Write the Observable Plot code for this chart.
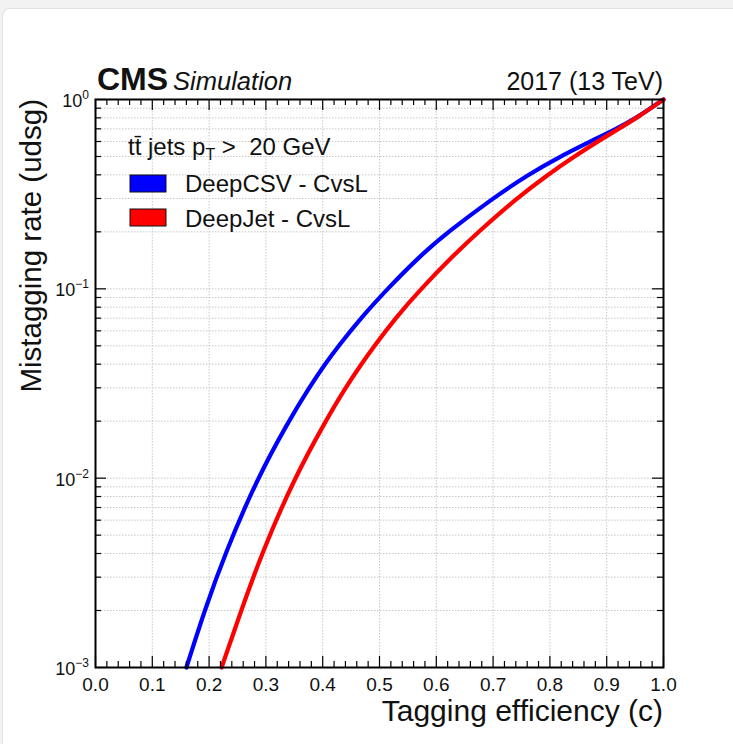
<!DOCTYPE html>
<html>
<head>
<meta charset="utf-8">
<script src="https://cdn.jsdelivr.net/npm/d3@7"></script>
<script src="https://cdn.jsdelivr.net/npm/@observablehq/plot@0.6"></script>
<style>
  html, body { margin: 0; padding: 0; background: #f2f2f2; width: 733px; height: 744px; overflow: hidden; }
  #panel { position: absolute; left: 2px; top: 8px; width: 740px; height: 750px; background: #fff;
           border-top: 1px solid #e2e2e2; border-left: 1px solid #e2e2e2; border-top-left-radius: 8px; }
  #chart { position: absolute; left: 0; top: 0; }
</style>
</head>
<body>
<div id="panel"></div>
<div id="chart"></div>
<script>
// ---- data ----
const blueX = [0.160, 0.192, 0.228, 0.285, 0.340, 0.376, 0.404, 0.428, 0.467, 0.514, 0.572, 0.621, 0.699, 0.761, 0.818, 0.871, 0.917, 0.953, 1.000];
const blueY = [0.001, 0.002, 0.004, 0.010, 0.020, 0.030, 0.040, 0.050, 0.070, 0.100, 0.150, 0.200, 0.300, 0.400, 0.500, 0.600, 0.700, 0.800, 1.000];
const redX  = [0.222, 0.2565, 0.2925, 0.350, 0.405, 0.440, 0.468, 0.491, 0.528, 0.573, 0.630, 0.674, 0.741, 0.796, 0.843, 0.884, 0.921, 0.953, 1.000];
const redY  = [0.001, 0.002, 0.004, 0.010, 0.020, 0.030, 0.040, 0.050, 0.070, 0.100, 0.150, 0.200, 0.300, 0.400, 0.500, 0.600, 0.700, 0.800, 1.000];
const seriesNames = ["DeepCSV - CvsL", "DeepJet - CvsL"];
const seriesColors = ["#0000ff", "#ff0000"];
const xTickLabels = ["0.0","0.1","0.2","0.3","0.4","0.5","0.6","0.7","0.8","0.9","1.0"];
const yExponents = [-3, -2, -1, 0];
const titleX = "Tagging efficiency (c)";
const titleY = "Mistagging rate (udsg)";
const headerLeftBold = "CMS";
const headerLeftItalic = "Simulation";
const headerRight = "2017 (13 TeV)";

// ---- derived tables ----
const blue = blueX.map((x, i) => ({x, y: blueY[i]}));
const red = redX.map((x, i) => ({x, y: redY[i]}));
const xMajor = xTickLabels.map(Number);
const xMinor = d3.range(0, 50).map(i => i / 50).filter(v => Math.round(v * 50) % 5 !== 0);
const yMajor = yExponents.map(e => Math.pow(10, e));
const yMinor = [];
for (const e of yExponents.slice(0, -1)) for (let m = 2; m <= 9; m++) yMinor.push(m * Math.pow(10, e));
const yGrid = yMajor.concat(yMinor);

const W = 733, H = 744;
const mL = 95, mR = 70, mT = 99, mB = 77;
const pw = W - mL - mR, ph = H - mT - mB;
const FONT = "'Liberation Sans', Arial, Helvetica, sans-serif";
const majLen = 11, minLen = 6;

const chart = Plot.plot({
  width: W, height: H,
  marginLeft: mL, marginRight: mR, marginTop: mT, marginBottom: mB,
  style: {background: "transparent", fontFamily: FONT, overflow: "visible"},
  x: {domain: [0, 1], axis: null},
  y: {type: "log", domain: [1e-3, 1], axis: null},
  marks: [
    Plot.gridX(xMajor, {stroke: "#c8c8c8", strokeOpacity: 1, strokeDasharray: "1.5,1.5"}),
    Plot.gridY(yGrid, {stroke: "#c8c8c8", strokeOpacity: 1, strokeDasharray: "1.5,1.5"}),
    Plot.line(blue, {x: "x", y: "y", stroke: seriesColors[0], strokeWidth: 4.2, curve: "basis"}),
    Plot.line(red, {x: "x", y: "y", stroke: seriesColors[1], strokeWidth: 4.2, curve: "basis"}),
    // inward ticks (bottom / top)
    Plot.ruleX(xMajor, {x: d => d, insetTop: ph - majLen, stroke: "black", strokeWidth: 1.2}),
    Plot.ruleX(xMinor, {x: d => d, insetTop: ph - minLen, stroke: "black", strokeWidth: 1.2}),
    Plot.ruleX(xMajor, {x: d => d, insetBottom: ph - majLen, stroke: "black", strokeWidth: 1.2}),
    Plot.ruleX(xMinor, {x: d => d, insetBottom: ph - minLen, stroke: "black", strokeWidth: 1.2}),
    // inward ticks (left / right)
    Plot.ruleY(yMajor, {y: d => d, insetRight: pw - majLen, stroke: "black", strokeWidth: 1.2}),
    Plot.ruleY(yMinor, {y: d => d, insetRight: pw - minLen, stroke: "black", strokeWidth: 1.2}),
    Plot.ruleY(yMajor, {y: d => d, insetLeft: pw - majLen, stroke: "black", strokeWidth: 1.2}),
    Plot.ruleY(yMinor, {y: d => d, insetLeft: pw - minLen, stroke: "black", strokeWidth: 1.2}),
    Plot.frame({stroke: "black", strokeWidth: 2}),
    Plot.axisX(xMajor, {tickSize: 0, tickPadding: 10, label: null, tickFormat: (d, i) => xTickLabels[i], fontSize: 19, fill: "#111"})
  ]
});
document.getElementById("chart").appendChild(chart);

const svg = d3.select(chart);
const ys = chart.scale("y");
const g = svg.append("g").attr("font-family", FONT).attr("fill", "#111").attr("text-anchor", "start");

// y tick labels 10^n
for (const e of yExponents) {
  const yy = ys.apply(Math.pow(10, e));
  const t = g.append("text").attr("x", mL - 6).attr("y", yy + 8).attr("text-anchor", "end").attr("font-size", 18);
  t.append("tspan").text("10");
  t.append("tspan").attr("dy", -8).attr("font-size", 12).text(e === 0 ? "0" : "\u2212" + Math.abs(e));
}

// axis titles
g.append("text").attr("x", W - mR).attr("y", 721).attr("text-anchor", "end").attr("font-size", 30).text(titleX);
g.append("text").attr("transform", `translate(41,${mT}) rotate(-90)`).attr("text-anchor", "end").attr("font-size", 29.5).text(titleY);

// header
const hdr = g.append("text").attr("x", mL + 2).attr("y", 90).attr("font-size", 32);
hdr.append("tspan").attr("font-weight", "bold").text(headerLeftBold);
hdr.append("tspan").attr("dx", 5).attr("font-style", "italic").attr("font-size", 25.5).text(headerLeftItalic);
g.append("text").attr("x", W - mR).attr("y", 90).attr("text-anchor", "end").attr("font-size", 25).text(headerRight);

// legend
const lg = g.append("text").attr("x", 128).attr("y", 155).attr("font-size", 24);
lg.append("tspan").text("tt\u0304 jets p");
lg.append("tspan").attr("font-size", 16).attr("dy", 5).text("T");
lg.append("tspan").attr("dy", -5).text(" >  20 GeV");
const boxes = [[175, 192], [209, 227]];
seriesNames.forEach((name, i) => {
  g.append("rect").attr("x", 130).attr("y", boxes[i][0]).attr("width", 36).attr("height", 17)
    .attr("fill", seriesColors[i]).attr("stroke", "#111").attr("stroke-width", 1);
  g.append("text").attr("x", 185).attr("y", boxes[i][1]).attr("font-size", 24).text(name);
});
</script>
</body>
</html>
